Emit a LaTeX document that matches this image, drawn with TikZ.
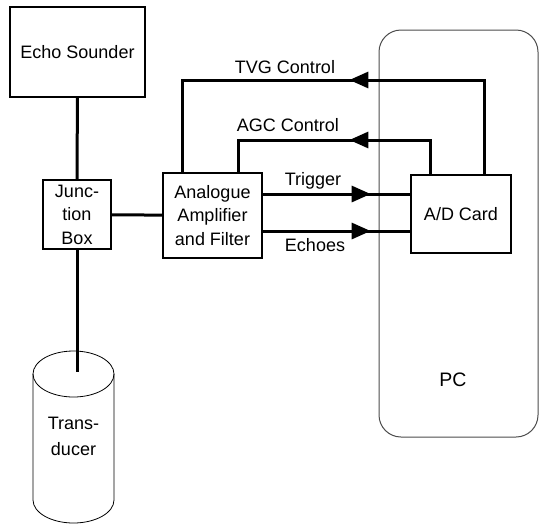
\documentclass[tikz,border=0pt]{standalone}
\usepackage{fontspec}
\setmainfont{Liberation Sans}
\usetikzlibrary{arrows.meta, positioning, decorations.markings}
\tikzset{
  basebox/.style={
    rectangle, draw=black, line width=1.3pt, align=center, inner sep=1pt,
    font=\fontsize{18}{23.5}\selectfont
  },
  unitbox/.style={basebox},
  pcbox/.style={rectangle, rounded corners=22pt, draw=black!70, line width=1pt},
  cable/.style={line width=3pt},
  label/.style={font=\fontsize{18}{26}\selectfont, align=center, inner sep=0pt},
  midarrow/.style={postaction={decorate}, decoration={markings,
      mark=at position #1 with {\arrow{Triangle[length=19pt, width=16pt]}}}}
}
\begin{document}
\begin{tikzpicture}[x=1pt, y=-1pt]
  \useasboundingbox (0,0) rectangle (540,525);
  % PC frame behind everything
  \node[pcbox, minimum width=159pt, minimum height=407pt] (pc) at (458.5,233.5) {};
  \node[label, font=\fontsize{19.5}{23}\selectfont] (pclabel) at (453,380) {PC};
  % boxes
  \node[unitbox, minimum width=135pt, minimum height=90pt] (sounder) at (77.5,52) {Echo Sounder};
  \node[unitbox, minimum width=68pt, minimum height=69pt] (junction) at (77,214.5) {Junc-\\tion\\Box};
  \node[unitbox, minimum width=99pt, minimum height=85pt] (amp) at (212.5,215.5) {Analogue\\Amplifier\\and Filter};
  \node[unitbox, minimum width=100pt, minimum height=78pt] (card) at (461,214) {A/D Card};
  % transducer cylinder
  \node[label] (transducer) at (73.5,436) {Trans-\\ducer};
  \draw[line width=0.8pt] (33,374) -- (33,500) arc[start angle=180, end angle=0, x radius=40.5, y radius=23] -- (114,374);
  \draw[line width=0.8pt] (73.5,374) ellipse[x radius=40.5, y radius=23];
  \coordinate (tdtop) at (77,372);
  % cables
  \draw[cable] (sounder) -- (junction);
  \draw[cable] (junction) -- (tdtop);
  \draw[cable] (junction) -- (amp);
  \draw[cable, midarrow=108pt] (amp.east |- 0,194) -- (card.west |- 0,194);
  \draw[cable, midarrow=108pt] (amp.east |- 0,231) -- (card.west |- 0,231);
  \draw[cable, midarrow=229pt] (card.north -| 484,0) |- (182,80) -- (amp.north -| 182,0);
  \draw[cable, midarrow=115pt] (card.north -| 430,0) |- (238,140) -- (amp.north -| 238,0);
  % labels
  \node[label] (tvg) at (285,67) {TVG Control};
  \node[label] (agc) at (288,125) {AGC Control};
  \node[label] (trig) at (313,181) {Trigger};
  \node[label] (echo) at (315,245) {Echoes};
\end{tikzpicture}
\end{document}
